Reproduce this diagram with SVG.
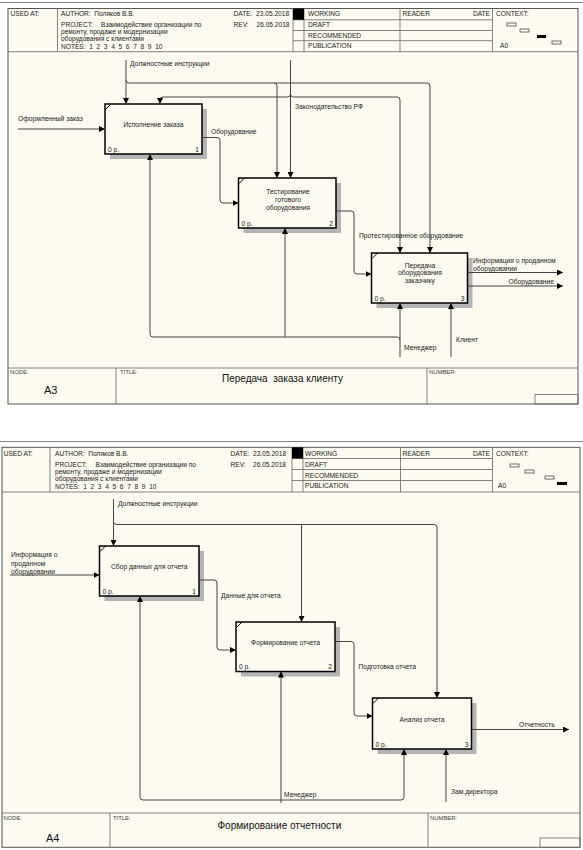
<svg xmlns="http://www.w3.org/2000/svg" width="583" height="850" viewBox="0 0 583 850">
<style>
text{font-family:"Liberation Sans",Arial,sans-serif;fill:#222;white-space:pre}
.h{font-size:6.6px}
.d{font-size:6.7px}
.s{font-size:5.9px;fill:#444}
.ti{font-size:10px;fill:#111}
.nd{font-size:11px;fill:#111}
.frame{fill:#fdfaf0;stroke:#555;stroke-width:1}
.g{stroke:#666;stroke-width:0.8;fill:none}
.box{fill:#fdfaf0;stroke:#000;stroke-width:1.5}
.sh{fill:#b4b4b4}
.c{fill:none;stroke:#444;stroke-width:1}
.a{marker-end:url(#ar)}
.mini{fill:#fdfaf0;stroke:#333;stroke-width:0.7}
</style>
<defs>
<marker id="ar" markerUnits="userSpaceOnUse" markerWidth="7" markerHeight="6" refX="6" refY="3" orient="auto">
<path d="M0,0 L6,3 L0,6 z" fill="#000"/>
</marker>
</defs>
<rect width="583" height="850" fill="#fff"/>
<line x1="0" y1="2.5" x2="583" y2="2.5" class="g"/>
<line x1="0" y1="441.5" x2="583" y2="441.5" class="g"/>

<!-- ================= DIAGRAM A3 ================= -->
<g id="frame-a3">
<rect x="8" y="8.5" width="570" height="395.5" class="frame"/>
<line x1="8" y1="51.7" x2="578" y2="51.7" class="g"/>
<line x1="57.5" y1="8.5" x2="57.5" y2="51.7" class="g"/>
<line x1="293" y1="8.5" x2="293" y2="51.7" class="g"/>
<line x1="304" y1="8.5" x2="304" y2="51.7" class="g"/>
<line x1="400" y1="8.5" x2="400" y2="51.7" class="g"/>
<line x1="492.5" y1="8.5" x2="492.5" y2="51.7" class="g"/>
<line x1="293" y1="19.8" x2="492.5" y2="19.8" class="g"/>
<line x1="293" y1="30.5" x2="492.5" y2="30.5" class="g"/>
<line x1="293" y1="40.7" x2="492.5" y2="40.7" class="g"/>
<rect x="293" y="8.5" width="11" height="11.3" fill="#000"/>
<text x="10.5" y="16.3" class="h">USED AT:</text>
<text x="61" y="16.3" class="h">AUTHOR:  Поляков В.В.</text>
<text x="61" y="27" class="h">PROJECT:</text>
<text x="101" y="27" class="h">Взаимодействие организации по</text>
<text x="61" y="34.4" class="h">ремонту, продаже и модернизации</text>
<text x="61" y="41.4" class="h">оборудования с клиентами</text>
<text x="61" y="48.6" class="h">NOTES:  1  2  3  4  5  6  7  8  9  10</text>
<text x="233.5" y="16.3" class="h">DATE:  23.05.2018</text>
<text x="233.5" y="27" class="h">REV:</text>
<text x="256.5" y="27" class="h">26.05.2018</text>
<text x="308" y="16.3" class="h">WORKING</text>
<text x="308" y="27.3" class="h">DRAFT</text>
<text x="308" y="38" class="h">RECOMMENDED</text>
<text x="308" y="48.3" class="h">PUBLICATION</text>
<text x="402.5" y="16.3" class="h">READER</text>
<text x="490" y="16.3" class="h" text-anchor="end">DATE</text>
<text x="496" y="16.3" class="h">CONTEXT:</text>
<text x="500" y="48.3" class="h">A0</text>
<rect x="507" y="23" width="9" height="3" class="mini"/>
<rect x="520" y="29" width="9" height="3" class="mini"/>
<rect x="537" y="35" width="9" height="3" fill="#000"/>
<rect x="552" y="41" width="9" height="3" class="mini"/>
<line x1="8" y1="368" x2="578" y2="368" class="g"/>
<line x1="116" y1="368" x2="116" y2="404" class="g"/>
<line x1="427" y1="368" x2="427" y2="404" class="g"/>
<rect x="535" y="394.5" width="43" height="9.5" fill="none" stroke="#666" stroke-width="0.8"/>
<text x="10" y="374" class="s">NODE:</text>
<text x="120" y="374" class="s">TITLE:</text>
<text x="429" y="374" class="s">NUMBER:</text>
<text x="222" y="382" class="ti">Передача  заказа клиенту</text>
<text x="44" y="394" class="nd">A3</text>
</g>

<g id="a3-box1">
<rect x="110" y="109" width="97" height="50" class="sh"/>
<rect x="105" y="104" width="97" height="50" class="box"/>
<line x1="105.5" y1="109.5" x2="111" y2="104" stroke="#000" stroke-width="1"/>
<text x="153.5" y="127" class="d" text-anchor="middle">Исполнение заказа</text>
<text x="108" y="151.5" class="d">0 р.</text>
<text x="199" y="151.5" class="d" text-anchor="end">1</text>
</g>
<g id="a3-box2">
<rect x="243.5" y="183" width="97.5" height="50" class="sh"/>
<rect x="238.5" y="178" width="97.5" height="50" class="box"/>
<line x1="239" y1="183.5" x2="244.5" y2="178" stroke="#000" stroke-width="1"/>
<text x="288" y="193.5" class="d" text-anchor="middle">Тестирование</text>
<text x="288" y="201.5" class="d" text-anchor="middle">готового</text>
<text x="288" y="209.5" class="d" text-anchor="middle">оборудования</text>
<text x="241.5" y="225.5" class="d">0 р.</text>
<text x="333" y="225.5" class="d" text-anchor="end">2</text>
</g>
<g id="a3-box3">
<rect x="376.5" y="258" width="96" height="50" class="sh"/>
<rect x="371.5" y="253" width="96" height="50" class="box"/>
<line x1="372" y1="258.5" x2="377.5" y2="253" stroke="#000" stroke-width="1"/>
<text x="420" y="267.5" class="d" text-anchor="middle">Передача</text>
<text x="420" y="275.3" class="d" text-anchor="middle">оборудования</text>
<text x="420" y="283.2" class="d" text-anchor="middle">заказчику</text>
<text x="374.5" y="300.5" class="d">0 р.</text>
<text x="464.5" y="300.5" class="d" text-anchor="end">3</text>
</g>

<g id="a3-connectors">
<path d="M18,129 H105" class="c a"/>
<path d="M126,60 V104" class="c a"/>
<path d="M126,80 q0,3 3,3 H427 q3,0 3,3 V253" class="c a"/>
<path d="M274,83 q3,0 3,3 V178" class="c a"/>
<path d="M290.5,60 V178" class="c a"/>
<path d="M290.5,94 q0,3 -3,3 H163 q-3,0 -3,3 V104" class="c a"/>
<path d="M290.5,94 q0,3 3,3 H397 q3,0 3,3 V253" class="c a"/>
<path d="M202,137.5 H217 q3,0 3,3 V200 q0,3 3,3 H238.5" class="c a"/>
<path d="M336,211 H351 q3,0 3,3 V271 q0,3 3,3 H371.5" class="c a"/>
<path d="M467.5,272.5 H563" class="c a"/>
<path d="M467.5,286 H563" class="c a"/>
<path d="M400,357 V303" class="c a"/>
<path d="M400,340 q0,-3 -3,-3 H153 q-3,0 -3,-3 V154" class="c a"/>
<path d="M285,337 V228" class="c a"/>
<path d="M451,357 V303" class="c a"/>
<text x="18" y="120.5" class="d">Оформленный заказ</text>
<text x="130" y="65.5" class="d">Должностные инструкции</text>
<text x="295" y="109" class="d">Законодательство РФ</text>
<text x="211" y="133.5" class="d">Оборудование</text>
<text x="359" y="237.5" class="d">Протестированное оборудование</text>
<text x="473" y="262.5" class="d">Информация о проданном</text>
<text x="473" y="270.5" class="d">оборудовании</text>
<text x="554" y="284" class="d" text-anchor="end">Оборудование</text>
<text x="404" y="350" class="d">Менеджер</text>
<text x="456" y="341.5" class="d">Клиент</text>
</g>

<!-- ================= DIAGRAM A4 ================= -->
<g id="frame-a4">
<rect x="2" y="447.3" width="578" height="400" class="frame"/>
<line x1="2" y1="492" x2="580" y2="492" class="g"/>
<line x1="50" y1="447.3" x2="50" y2="492" class="g"/>
<line x1="292" y1="447.3" x2="292" y2="492" class="g"/>
<line x1="303" y1="447.3" x2="303" y2="492" class="g"/>
<line x1="400.5" y1="447.3" x2="400.5" y2="492" class="g"/>
<line x1="492.5" y1="447.3" x2="492.5" y2="492" class="g"/>
<line x1="292" y1="458.5" x2="492.5" y2="458.5" class="g"/>
<line x1="292" y1="469.5" x2="492.5" y2="469.5" class="g"/>
<line x1="292" y1="480.5" x2="492.5" y2="480.5" class="g"/>
<rect x="292" y="447.3" width="11" height="11.2" fill="#000"/>
<text x="3.7" y="455.5" class="h">USED AT:</text>
<text x="55" y="455.5" class="h">AUTHOR:  Поляков В.В.</text>
<text x="55" y="466.5" class="h">PROJECT:</text>
<text x="95.5" y="466.5" class="h">Взаимодействие организации по</text>
<text x="55" y="474" class="h">ремонту, продаже и модернизации</text>
<text x="55" y="481.2" class="h">оборудования с клиентами</text>
<text x="55" y="488.6" class="h">NOTES:  1  2  3  4  5  6  7  8  9  10</text>
<text x="230.5" y="455.5" class="h">DATE:  23.05.2018</text>
<text x="230.5" y="466.5" class="h">REV:</text>
<text x="253" y="466.5" class="h">26.05.2018</text>
<text x="305" y="455.5" class="h">WORKING</text>
<text x="305" y="466.8" class="h">DRAFT</text>
<text x="305" y="477.5" class="h">RECOMMENDED</text>
<text x="305" y="488.3" class="h">PUBLICATION</text>
<text x="402.5" y="455.5" class="h">READER</text>
<text x="490" y="455.5" class="h" text-anchor="end">DATE</text>
<text x="496" y="455.5" class="h">CONTEXT:</text>
<text x="498" y="488.3" class="h">A0</text>
<rect x="510" y="464" width="9" height="3" class="mini"/>
<rect x="525" y="470" width="9" height="3" class="mini"/>
<rect x="545" y="476" width="9" height="3" class="mini"/>
<rect x="557" y="482" width="10" height="3" fill="#000"/>
<line x1="2" y1="813" x2="580" y2="813" class="g"/>
<line x1="110" y1="813" x2="110" y2="847.3" class="g"/>
<line x1="428" y1="813" x2="428" y2="847.3" class="g"/>
<rect x="540" y="838" width="40" height="9.3" fill="none" stroke="#666" stroke-width="0.8"/>
<text x="3.5" y="819.5" class="s">NODE:</text>
<text x="113" y="819.5" class="s">TITLE:</text>
<text x="430" y="819.5" class="s">NUMBER:</text>
<text x="217.5" y="828.5" class="ti">Формирование отчетности</text>
<text x="46" y="841.5" class="nd">A4</text>
</g>

<g id="a4-box1">
<rect x="104.5" y="551" width="99.5" height="50" class="sh"/>
<rect x="99.5" y="546" width="99.5" height="50" class="box"/>
<line x1="100" y1="551.5" x2="105.5" y2="546" stroke="#000" stroke-width="1"/>
<text x="149.3" y="569" class="d" text-anchor="middle">Сбор данных для отчета</text>
<text x="102.5" y="593.5" class="d">0 р.</text>
<text x="196" y="593.5" class="d" text-anchor="end">1</text>
</g>
<g id="a4-box2">
<rect x="241" y="627" width="99" height="49.5" class="sh"/>
<rect x="236" y="622" width="99" height="49.5" class="box"/>
<line x1="236.5" y1="627.5" x2="242" y2="622" stroke="#000" stroke-width="1"/>
<text x="285.5" y="645" class="d" text-anchor="middle">Формирование отчета</text>
<text x="239" y="669" class="d">0 р.</text>
<text x="332" y="669" class="d" text-anchor="end">2</text>
</g>
<g id="a4-box3">
<rect x="377.5" y="703" width="99" height="51" class="sh"/>
<rect x="372.5" y="698" width="99" height="51" class="box"/>
<line x1="373" y1="703.5" x2="378.5" y2="698" stroke="#000" stroke-width="1"/>
<text x="422" y="721.5" class="d" text-anchor="middle">Анализ отчета</text>
<text x="375.5" y="746.5" class="d">0 р.</text>
<text x="468.5" y="746.5" class="d" text-anchor="end">3</text>
</g>

<g id="a4-connectors">
<path d="M10,575 H99.5" class="c a"/>
<path d="M113.5,499 V546" class="c a"/>
<path d="M113.5,521.5 q0,3 3,3 H434 q3,0 3,3 V698" class="c a"/>
<path d="M301.5,524.5 V622" class="c a"/>
<path d="M199,580 H214 q3,0 3,3 V647 q0,3 3,3 H236" class="c a"/>
<path d="M335,641.5 H351 q3,0 3,3 V713 q0,3 3,3 H372.5" class="c a"/>
<path d="M471.5,729.5 H569" class="c a"/>
<path d="M281,803 V671.5" class="c a"/>
<path d="M281,800 H143 q-3,0 -3,-3 V596" class="c a"/>
<path d="M281,800 H401 q3,0 3,-3 V749" class="c a"/>
<path d="M446,802 V749" class="c a"/>
<text x="11" y="556.5" class="d">Информация о</text>
<text x="11" y="565.5" class="d">проданном</text>
<text x="11" y="573.5" class="d">оборудовании</text>
<text x="118" y="505.5" class="d">Должностные инструкции</text>
<text x="221" y="598" class="d">Данные для отчета</text>
<text x="358.5" y="669" class="d">Подготовка отчета</text>
<text x="519" y="727" class="d">Отчетность</text>
<text x="284" y="797" class="d">Менеджер</text>
<text x="451" y="794" class="d">Зам.директора</text>
</g>
</svg>
